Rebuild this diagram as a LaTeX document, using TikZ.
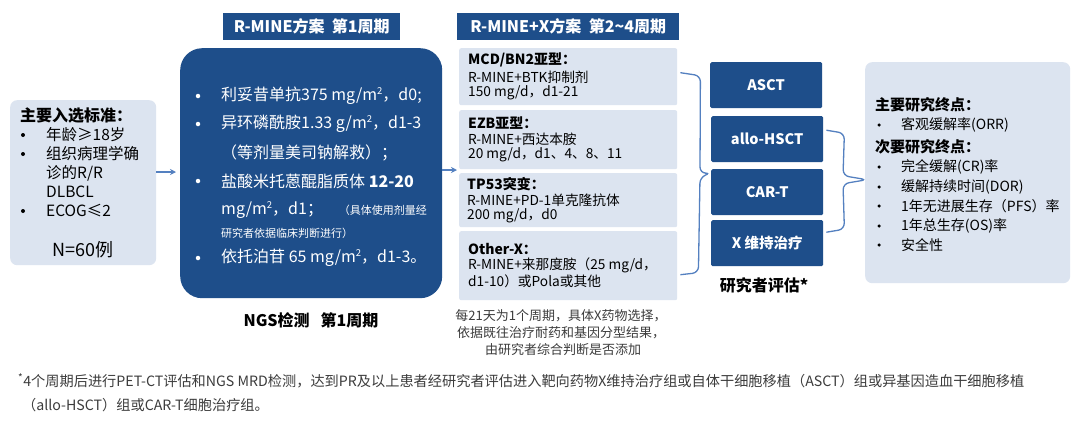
\documentclass[tikz,border=0pt]{standalone}
\usepackage{fontspec}
\setmainfont{Noto Sans CJK SC}
\usetikzlibrary{arrows.meta,calc}
\definecolor{dkblue}{RGB}{30,78,138}
\definecolor{ltblue}{RGB}{220,228,240}
\definecolor{lnblue}{RGB}{84,128,192}
\definecolor{note}{RGB}{60,60,60}
\newcommand{\fsz}[1]{\fontsize{#1}{#1}\selectfont}
\newcommand{\sqr}{\raisebox{0.42em}{\fontsize{9.5}{9.5}\selectfont 2}}
\tikzset{
  lightbox/.style={fill=ltblue, draw=none, rounded corners=7pt, anchor=north west, inner sep=0},
  subbox/.style={fill=ltblue, draw=none, rounded corners=2pt, anchor=north west, inner sep=0, minimum width=218pt},
  darkbox/.style={fill=dkblue, draw=none, rounded corners=1.5pt, anchor=north west, inner sep=0, minimum width=112pt, minimum height=46pt, text=white, font=\fsz{14.5}\bfseries},
  hdr/.style={fill=dkblue, text=white, font=\fsz{16}\bfseries, inner sep=0, anchor=north west, minimum height=27pt},
  txt/.style={anchor=west, inner sep=0, text=black},
  wtxt/.style={anchor=west, inner sep=0, text=white, font=\fsz{16}},
  bul/.style={circle, fill=black, draw=none, inner sep=0, minimum size=4pt},
  conn/.style={draw=lnblue, line width=1.3pt},
  arr/.style={conn, -{Stealth[length=6pt,width=6pt]}},
}
\begin{document}
\begin{tikzpicture}[x=1pt,y=-1pt]
\fill[white] (0,0) rectangle (1080,432);
\useasboundingbox (0,0) rectangle (1080,432);

% ---- left box
\node[lightbox, minimum width=146pt, minimum height=165pt] (L) at (10,100) {};
\node[txt, font=\fsz{16}\bfseries] (Lh) at (20,116) {主要入选标准：};
\begin{scope}[every node/.style={txt, font=\fsz{15.5}}]
\node at (46,135) {年龄≥18岁};
\node at (46,154) {组织病理学确};
\node at (46,173) {诊的R/R};
\node at (46,192) {DLBCL};
\node at (46,211) {ECOG≤2};
\end{scope}
\foreach \yy in {135,154,211}{\node[bul] at (23,\yy) {};}
\node[inner sep=0, font=\fsz{18}] (N) at (83,250) {N=60例};

% ---- title 1 and main box
\node[hdr, minimum width=177pt] (T1) at (223,13) {R-MINE方案\ \ 第1周期};
\node[fill=dkblue, draw=none, rounded corners=22pt, anchor=north west, inner sep=0, minimum width=262pt, minimum height=250pt] (M) at (180,48) {};
\node[wtxt] at (221,96) {利妥昔单抗375 mg/m\sqr，d0;};
\node[wtxt] at (221,124) {异环磷酰胺1.33 g/m\sqr，d1-3};
\node[wtxt] at (221,153) {（等剂量美司钠解救）；};
\node[wtxt] at (221,181) {盐酸米托蒽醌脂质体 \textbf{12-20}};
\node[wtxt] at (221,210) {mg/m\sqr，d1；};
\node[inner sep=0, text=white, font=\fsz{11}, anchor=east] at (427,210) {（具体使用剂量经};
\node[inner sep=0, text=white, font=\fsz{11}, anchor=west] at (221,233) {研究者依据临床判断进行）};
\node[wtxt] at (221,258) {依托泊苷 65 mg/m\sqr，d1-3。};
\foreach \yy in {96,124,181,258}{\node[bul, fill=white, minimum size=4.5pt] at (198,\yy) {};}
\node[inner sep=0, font=\fsz{16}\bfseries] (NGS) at (311,320) {NGS检测\ \ \ 第1周期};

% ---- title 2 and sub boxes
\node[hdr, minimum width=222pt] (T2) at (457,13) {R-MINE+X方案\ \ 第2\textasciitilde4周期};
\node[subbox, minimum height=57pt] (B1) at (459,48) {};
\node[subbox, minimum height=59pt] (B2) at (459,110) {};
\node[subbox, minimum height=54pt] (B3) at (459,173) {};
\node[subbox, minimum height=69pt] (B4) at (459,231) {};
\begin{scope}[every node/.style={txt, font=\fsz{13.7}}]
\node[font=\fsz{14}\bfseries] at (468,60) {MCD/BN2亚型：};
\node at (468,77) {R-MINE+BTK抑制剂};
\node at (468,93) {150 mg/d，d1-21};
\node[font=\fsz{14}\bfseries] at (468,123) {EZB亚型：};
\node at (468,139) {R-MINE+西达本胺};
\node at (468,155) {20 mg/d，d1、4、8、11};
\node[font=\fsz{14}\bfseries] at (467,184) {TP53突变：};
\node at (467,200) {R-MINE+PD-1单克隆抗体};
\node at (467,216) {200 mg/d，d0};
\node[font=\fsz{14}\bfseries] at (468,249) {Other-X：};
\node at (468,265) {R-MINE+来那度胺（25 mg/d，};
\node at (468,281) {d1-10）或Pola或其他};
\end{scope}
\begin{scope}[every node/.style={inner sep=0, font=\fsz{13}, text=note}]
\node (C1) at (561,316) {每21天为1个周期，具体X药物选择，};
\node (C2) at (561,333) {依据既往治疗耐药和基因分型结果，};
\node (C3) at (563,350) {由研究者综合判断是否添加};
\end{scope}

% ---- dark boxes right
\node[darkbox] (R1) at (710,62) {ASCT};
\node[darkbox] (R2) at (711,116) {allo-HSCT};
\node[darkbox] (R3) at (711,169) {CAR-T};
\node[darkbox] (R4) at (711,220) {X 维持治疗};
\node[inner sep=0, font=\fsz{16}\bfseries] (EV) at (764,285) {研究者评估*};

% ---- endpoints box
\node[lightbox, minimum width=205pt, minimum height=221pt] (E) at (865,62) {};
\node[txt, font=\fsz{15}\bfseries] at (875,105) {主要研究终点：};
\node[txt, font=\fsz{15}\bfseries] at (875,147) {次要研究终点：};
\begin{scope}[every node/.style={txt, font=\fsz{14}}]
\node at (901,125) {客观缓解率(ORR)};
\node at (901,167) {完全缓解(CR)率};
\node at (901,187) {缓解持续时间(DOR)};
\node at (901,206) {1年无进展生存（PFS）率};
\node at (901,226) {1年总生存(OS)率};
\node at (901,245) {安全性};
\end{scope}
\foreach \yy in {125,167,187,206,226,245}{\node[bul, minimum size=3.5pt] at (879,\yy) {};}

% ---- connectors
\draw[arr] (L.east |- 0,172) -- ($(M.west |- 0,172)+(-4,0)$);
\draw[arr] (M.east |- 0,170) -- ($(B2.west |- 0,170)+(-2,0)$);
\draw[conn, rounded corners=6pt]
  ($(B1.east)+(3,-4)$) -- ++(20,3) -- ($(R3.west)+(-11,-19)$) -- (R3.west |- 0,173)
  -- ($(R3.west)+(-11,-15)$) -- ($(B4.east)+(21,7)$) -- ($(B4.east)+(3,9)$);
\draw[conn, rounded corners=6pt]
  ($(R2.east)+(3,-9)$) -- ++(18,3) -- ($(E.west)+(-22,3)$) -- ($(E.west)+(2,7)$)
  -- ($(E.west)+(-22,11)$) -- ($(R4.east)+(21,-14)$) -- ($(R4.east)+(3,-11)$);

% ---- footnote
\begin{scope}[every node/.style={anchor=west, inner sep=0, font=\fsz{14.2}, text=note}]
\node (F1) at (18,381) {\textsuperscript{*}4个周期后进行PET-CT评估和NGS MRD检测，达到PR及以上患者经研究者评估进入靶向药物X维持治疗组或自体干细胞移植（ASCT）组或异基因造血干细胞移植};
\node (F2) at (22,405) {（allo-HSCT）组或CAR-T细胞治疗组。};
\end{scope}
\end{tikzpicture}
\end{document}
